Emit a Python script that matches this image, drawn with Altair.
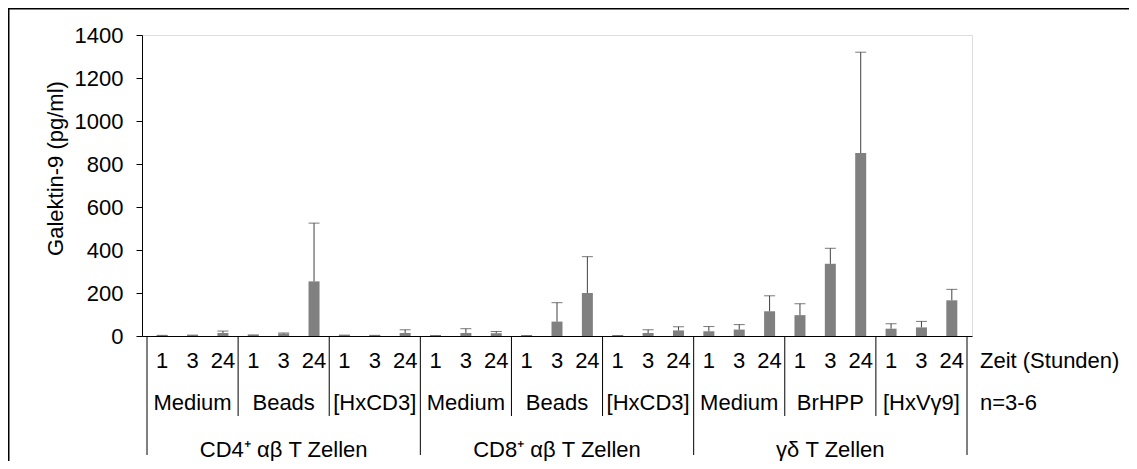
import altair as alt
import pandas as pd

# ---------------- data ----------------
cell_types = ["CD4⁺ αβ T Zellen", "CD8⁺ αβ T Zellen", "γδ T Zellen"]
stimuli = ["Medium", "Beads", "[HxCD3]",
           "Medium", "Beads", "[HxCD3]",
           "Medium", "BrHPP", "[HxVγ9]"]
times = ["1", "3", "24"]

means = [2, 3, 14,     4, 11, 254,    3, 2, 14,
         1, 14, 13,    1, 67, 200,    1, 14, 26,
         22, 30, 115,  97, 336, 851,  34, 40, 166]
errors = [1, 1, 9,     1, 3, 271,     1, 1, 15,
          1, 20, 8,    1, 88, 169,    1, 15, 17,
          22, 23, 72,  53, 72, 469,   23, 28, 51]

y_ticks = [0, 200, 400, 600, 800, 1000, 1200, 1400]

# ---------------- tables ----------------
rows = []
for i, (m, e) in enumerate(zip(means, errors)):
    rows.append({"x": i + 0.5, "time": times[i % 3], "mean": m, "top": m + e})
bars_df = pd.DataFrame(rows)

groups_df = pd.DataFrame({"x": [3 * g + 1.5 for g in range(len(stimuli))],
                          "label": stimuli})
cells_df = pd.DataFrame({"x": [9 * c + 4.5 for c in range(len(cell_types))],
                         "label": cell_types})
sub_sep_df = pd.DataFrame({"b": [3, 6, 12, 15, 21, 24]})
main_sep_df = pd.DataFrame({"b": [0, 9, 18, 27]})
one = pd.DataFrame({"d": [0]})

FONT = "Liberation Sans"
FS = 22
W, H = 830, 301
PAD = {"left": 134, "top": 27, "right": 157, "bottom": 125}

xs = alt.Scale(domain=[0, 27], nice=False, zero=False)
ys = alt.Scale(domain=[0, 1400], nice=False)

x_enc = alt.X("x:Q", scale=xs,
              axis=alt.Axis(labels=False, ticks=False, grid=False, title=None,
                            domainColor="black", domainWidth=1))

bars = alt.Chart(bars_df).mark_bar(color="#808080", size=11).encode(
    x=x_enc,
    y=alt.Y("mean:Q", scale=ys,
            axis=alt.Axis(values=y_ticks, format="d", grid=False,
                          title="Galektin-9 (pg/ml)",
                          domainColor="black", tickColor="black", tickSize=6,
                          labelFontSize=FS, labelFont=FONT, labelColor="black",
                          labelPadding=13, titleFontSize=FS, titleFont=FONT,
                          titleFontWeight="normal", titleColor="black",
                          titleAngle=270, titleX=-87, titleY=133,
                          titleAlign="center", titleBaseline="middle")),
)

err_rule = alt.Chart(bars_df).mark_rule(color="#404040", strokeWidth=1).encode(
    x=alt.X("x:Q", scale=xs), y=alt.Y("mean:Q", scale=ys), y2="top:Q")
err_cap = alt.Chart(bars_df).mark_tick(color="#404040", orient="horizontal",
                                       size=11, thickness=1).encode(
    x=alt.X("x:Q", scale=xs), y=alt.Y("top:Q", scale=ys))

txt = dict(font=FONT, fontSize=FS, color="black", baseline="alphabetic")

time_lbl = alt.Chart(bars_df).mark_text(align="center", **txt).encode(
    x=alt.X("x:Q", scale=xs), y=alt.value(333), text="time:N")
group_lbl = alt.Chart(groups_df).mark_text(align="center", **txt).encode(
    x=alt.X("x:Q", scale=xs), y=alt.value(375), text="label:N")
cell_lbl = alt.Chart(cells_df).mark_text(align="center", **txt).encode(
    x=alt.X("x:Q", scale=xs), y=alt.value(422), text="label:N")

sub_sep = alt.Chart(sub_sep_df).mark_rule(color="black", strokeWidth=1).encode(
    x=alt.X("b:Q", scale=xs), y=alt.value(H), y2=alt.value(381))
main_sep = alt.Chart(main_sep_df).mark_rule(color="black", strokeWidth=1).encode(
    x=alt.X("b:Q", scale=xs), y=alt.value(H), y2=alt.value(420))

zeit = alt.Chart(one).mark_text(align="left", dx=13, **txt).encode(
    x=alt.datum(27, scale=xs), y=alt.value(333), text=alt.value("Zeit (Stunden)"))
nlbl = alt.Chart(one).mark_text(align="left", dx=13, **txt).encode(
    x=alt.datum(27, scale=xs), y=alt.value(375), text=alt.value("n=3-6"))

# outer frame: only top and left edges are visible in the reference
right_edge = W + PAD["right"]
bottom_edge = H + PAD["bottom"]
frame_top = alt.Chart(one).mark_rule(color="black", strokeWidth=1.5).encode(
    x=alt.value(-PAD["left"]), x2=alt.value(right_edge - 3), y=alt.value(-PAD["top"] + 0.75))
frame_left = alt.Chart(one).mark_rule(color="black", strokeWidth=1.5).encode(
    x=alt.value(-PAD["left"] + 0.75), y=alt.value(-PAD["top"]), y2=alt.value(bottom_edge))
# white strip along the right edge of the drawing surface
edge_cover = alt.Chart(one).mark_rect(color="white").encode(
    x=alt.value(right_edge - 3), x2=alt.value(right_edge + 2),
    y=alt.value(-PAD["top"] + 1.5), y2=alt.value(bottom_edge + 2))
frame_top_end = alt.Chart(one).mark_rule(color="black", strokeWidth=1.5).encode(
    x=alt.value(right_edge - 3.5), x2=alt.value(right_edge + 2), y=alt.value(-PAD["top"] + 0.75))

chart = alt.layer(
    bars, err_rule, err_cap, sub_sep, main_sep,
    time_lbl, group_lbl, cell_lbl, zeit, nlbl, frame_top, frame_left,
    edge_cover, frame_top_end
).properties(
    width=W, height=H,
    autosize=alt.AutoSizeParams(type="none"),
    padding=PAD,
).configure_view(stroke=None).configure(background="white")

chart.save("out.html", embed_options={"renderer": "svg", "actions": False})
